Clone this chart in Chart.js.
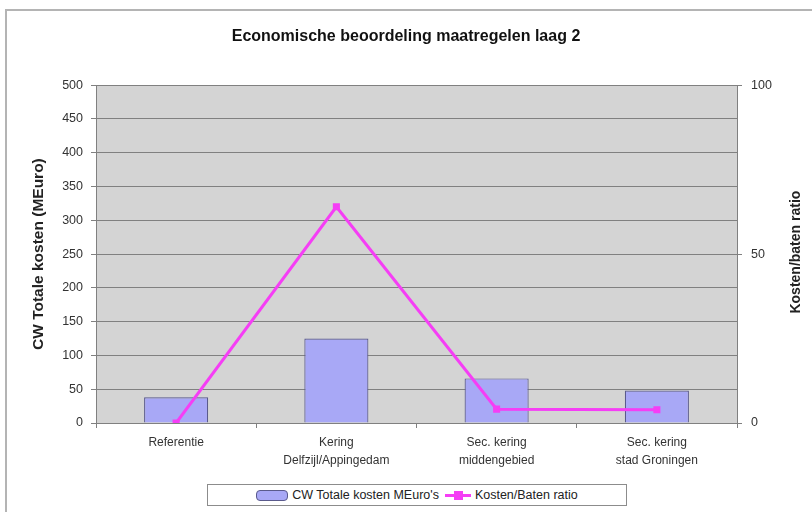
<!DOCTYPE html>
<html>
<head>
<meta charset="utf-8">
<script src="https://cdn.jsdelivr.net/npm/chart.js@4/dist/chart.umd.min.js"></script>
<style>
  html, body { margin: 0; padding: 0; background: #fff; }
  #wrap { position: relative; width: 812px; height: 512px; overflow: hidden; font-family: 'Liberation Sans', Arial, sans-serif; }
  #frame { position: absolute; left: 5px; top: 9px; width: 900px; height: 600px; border-top: 2px solid #b4b4b4; border-left: 2px solid #b4b4b4; box-sizing: border-box; }
  canvas { position: absolute; left: 0; top: 0; }
  #legend { position: absolute; left: 207px; top: 484px; width: 420px; height: 22px; border: 1px solid #8c8c8c; box-sizing: border-box; display: flex; align-items: center; justify-content: center; font-size: 12.5px; color: #222; background: #fff; }
  .sw-bar { display: inline-block; width: 30px; height: 9px; background: #a8a8f6; border: 1px solid #5a5a8c; border-radius: 4px; margin-right: 4px; }
  .sw-line { display: inline-block; position: relative; width: 26px; height: 9px; margin: 0 4px 0 6px; }
  .sw-line::before { content: ''; position: absolute; left: 0; right: 0; top: 3px; height: 3px; background: #f53ef5; }
  .sw-line::after { content: ''; position: absolute; left: 9px; top: 0; width: 9px; height: 9px; background: #f53ef5; }
</style>
</head>
<body>
<div id="wrap">
  <div id="frame"></div>
  <canvas id="chart" width="812" height="512"></canvas>
  <div id="legend">
    <span class="sw-bar"></span><span>CW Totale kosten MEuro's</span>
    <span class="sw-line"></span><span>Kosten/Baten ratio</span>
  </div>
</div>
<script>
// Data
const categories = [
    ['Referentie'],
    ['Kering', 'Delfzijl/Appingedam'],
    ['Sec. kering', 'middengebied'],
    ['Sec. kering', 'stad Groningen'],
];
const kosten = [38, 125, 66, 48];      // CW Totale kosten MEuro's (left axis)
const ratio  = [0, 64, 4.1, 3.9];      // Kosten/Baten ratio (right axis)

const FONT = "'Liberation Sans', Arial, sans-serif";
Chart.defaults.font.family = FONT;
Chart.defaults.color = '#333';

// grey plot background, Excel style
const plotBg = {
    id: 'plotBg',
    beforeDraw(chart) {
        const { ctx, chartArea: a } = chart;
        ctx.save();
        ctx.fillStyle = '#d4d4d4';
        ctx.fillRect(a.left, a.top, a.right - a.left, a.bottom - a.top);
        ctx.restore();
    }
};

// right axis title reads bottom-to-top
const rightTitle = {
    id: 'rightTitle',
    afterDraw(chart) {
        const { ctx, chartArea: a } = chart;
        ctx.save();
        ctx.translate(796, (a.top + a.bottom) / 2 - 2);
        ctx.rotate(-Math.PI / 2);
        ctx.font = 'bold 14px ' + FONT;
        ctx.fillStyle = '#222';
        ctx.textAlign = 'center';
        ctx.textBaseline = 'middle';
        ctx.fillText('Kosten/baten ratio', 0, 0);
        ctx.restore();
    }
};

new Chart(document.getElementById('chart'), {
    type: 'bar',
    data: {
        labels: categories,
        datasets: [
            {
                type: 'line',
                label: 'Kosten/Baten ratio',
                data: ratio,
                yAxisID: 'y1',
                borderColor: '#f53ef5',
                backgroundColor: '#f53ef5',
                borderWidth: 3,
                pointStyle: 'rect',
                pointRadius: 5,
                pointBorderWidth: 0,
                tension: 0,
                order: 0,
            },
            {
                label: "CW Totale kosten MEuro's",
                data: kosten,
                yAxisID: 'y',
                backgroundColor: '#a8a8f6',
                borderColor: '#5a5a8c',
                borderWidth: 1.2,
                barPercentage: 0.4,
                categoryPercentage: 1,
                order: 1,
            }
        ]
    },
    options: {
        responsive: false,
        animation: false,
        layout: { padding: { left: 0, right: 0, top: 0, bottom: 39 } },
        plugins: {
            legend: { display: false },
            tooltip: { enabled: false },
            title: {
                display: true,
                text: 'Economische beoordeling maatregelen laag 2',
                color: '#111',
                font: { size: 16, weight: 'bold' },
                padding: { top: 27, bottom: 39 },
            }
        },
        scales: {
            x: {
                grid: { drawOnChartArea: false, drawTicks: true, tickLength: 5, color: '#808080' },
                border: { color: '#808080' },
                ticks: { color: '#333', font: { size: 12, lineHeight: 1.55 }, maxRotation: 0, padding: 5 },
                afterFit: s => { s.height = 50; },
            },
            y: {
                position: 'left',
                min: 0, max: 500,
                ticks: { stepSize: 50, color: '#333', font: { size: 12.5 }, padding: 8 },
                grid: { color: '#808080', tickLength: 5 },
                border: { color: '#808080' },
                title: {
                    display: true,
                    text: 'CW Totale kosten (MEuro)',
                    color: '#222',
                    font: { size: 15.5, weight: 'bold' },
                    padding: { top: 29 },
                },
                afterFit: s => { s.width = 96; },
            },
            y1: {
                position: 'right',
                min: 0, max: 100,
                ticks: { stepSize: 50, color: '#333', font: { size: 12.5 }, padding: 9 },
                grid: { drawOnChartArea: false, tickLength: 5, color: '#808080' },
                border: { color: '#808080' },
                afterFit: s => { s.width = 75; },
            }
        }
    },
    plugins: [plotBg, rightTitle]
});
</script>
</body>
</html>
